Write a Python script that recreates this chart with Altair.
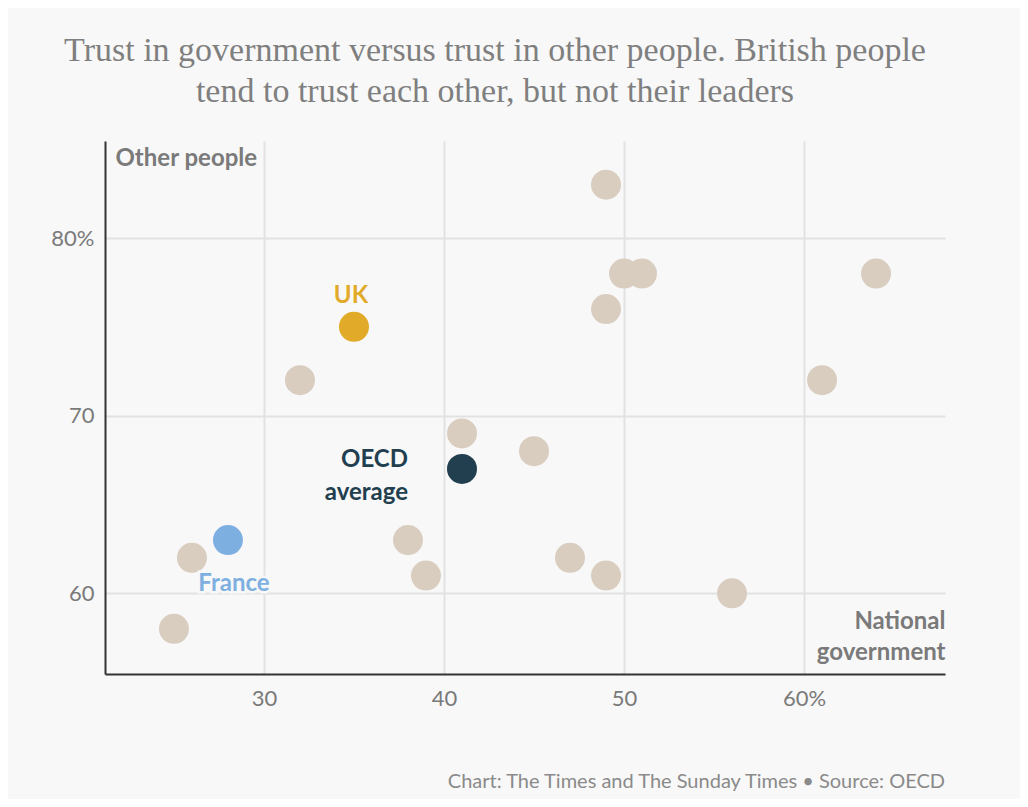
import altair as alt
import pandas as pd

gov = [25, 26, 32, 38, 39, 41, 45, 47, 49, 49, 49, 50, 51, 56, 61, 64, 41, 35, 28]
people = [58, 62, 72, 63, 61, 69, 68, 62, 61, 76, 83, 78, 78, 60, 72, 78, 67, 75, 63]
group = ["Other"] * 16 + ["OECD average", "UK", "France"]

group_names = ["Other", "OECD average", "UK", "France"]
group_colors = ["#d9cdc0", "#223f4f", "#e1aa28", "#7dafe1"]

title_lines = ["Trust in government versus trust in other people. British people",
               "tend to trust each other, but not their leaders"]
footer = ["Chart: The Times and The Sunday Times \u2022 Source: OECD"]
x_ticks = [30, 40, 50, 60]
y_ticks = [60, 70, 80]

df = pd.DataFrame({"gov": gov, "people": people, "group": group})
BG = "#f8f8f8"
GRAY = "#7a7a7a"
FONT = "Lato"
LFS = 24

xs = alt.Scale(domain=[21.17, 67.83], nice=False, zero=False)
ys = alt.Scale(domain=[55.46, 85.46], nice=False, zero=False)

base = alt.Chart(df)

points = base.mark_circle(size=900, opacity=1).encode(
    x=alt.X("gov:Q", scale=xs,
            axis=alt.Axis(values=x_ticks, labelExpr="datum.value == 60 ? '60%' : datum.label",
                          title=["National", "government"], titleX=840, titleY=-46,
                          titleAlign="right", titleBaseline="alphabetic", titleLineHeight=31,
                          titleAngle=0)),
    y=alt.Y("people:Q", scale=ys,
            axis=alt.Axis(values=y_ticks, labelExpr="datum.value == 80 ? '80%' : datum.label",
                          title="Other people", titleX=10, titleY=24, titleAngle=0,
                          titleAlign="left", titleBaseline="alphabetic")),
    color=alt.Color("group:N", scale=alt.Scale(domain=group_names, range=group_colors), legend=None),
)

def label(name, text, dx, dy, align, halo=False):
    d = base.transform_filter(alt.datum.group == name).transform_calculate(lab=text)
    enc = dict(x=alt.X("gov:Q", scale=xs), y=alt.Y("people:Q", scale=ys), text="lab:N")
    layers = []
    if halo:
        layers.append(d.mark_text(font=FONT, fontSize=LFS, fontWeight="bold", dx=dx, dy=dy,
                                  align=align, baseline="alphabetic", lineHeight=33,
                                  stroke=BG, strokeWidth=5, fill=BG).encode(**enc))
    layers.append(d.mark_text(font=FONT, fontSize=LFS, fontWeight="bold", dx=dx, dy=dy,
                              align=align, baseline="alphabetic", lineHeight=33).encode(
        color=alt.Color("group:N", scale=alt.Scale(domain=group_names, range=group_colors), legend=None),
        **enc))
    return layers

labels = []
labels += label("UK", "'UK'", -3, -24, "center")
labels += label("OECD average", "['OECD', 'average']", -54, -2, "right")
labels += label("France", "'France'", 6, 51, "center", halo=True)

foot = alt.Chart(pd.DataFrame({"t": footer})).mark_text(
    font=FONT, fontSize=20, color="#8a8a8a", align="right", baseline="alphabetic"
).encode(x=alt.value(840), y=alt.value(647), text="t:N")

chart = alt.layer(points, *labels, foot).properties(
    width=840, height=533,
    padding={"left": 97, "top": 133, "right": 75, "bottom": 125},
    autosize=alt.AutoSizeParams(type="none"),
    background=BG,
    title=alt.TitleParams(text=title_lines, font="Liberation Serif", fontSize=34,
                          fontWeight="normal", color="#7f7f7f", anchor="middle",
                          dx=-30, offset=32, lineHeight=41),
).configure_view(stroke=None).configure_axis(
    grid=True, gridColor="#e2e2e2", gridWidth=2, domainColor="#333333", domainWidth=2,
    ticks=False, labelFont=FONT, labelFontSize=22, labelColor=GRAY,
    titleFont=FONT, titleFontSize=LFS, titleFontWeight="bold", titleColor=GRAY,
).configure_axisX(labelPadding=14).configure_axisY(labelPadding=11)

chart.save("out.html", embed_options={"renderer": "svg", "actions": False})
